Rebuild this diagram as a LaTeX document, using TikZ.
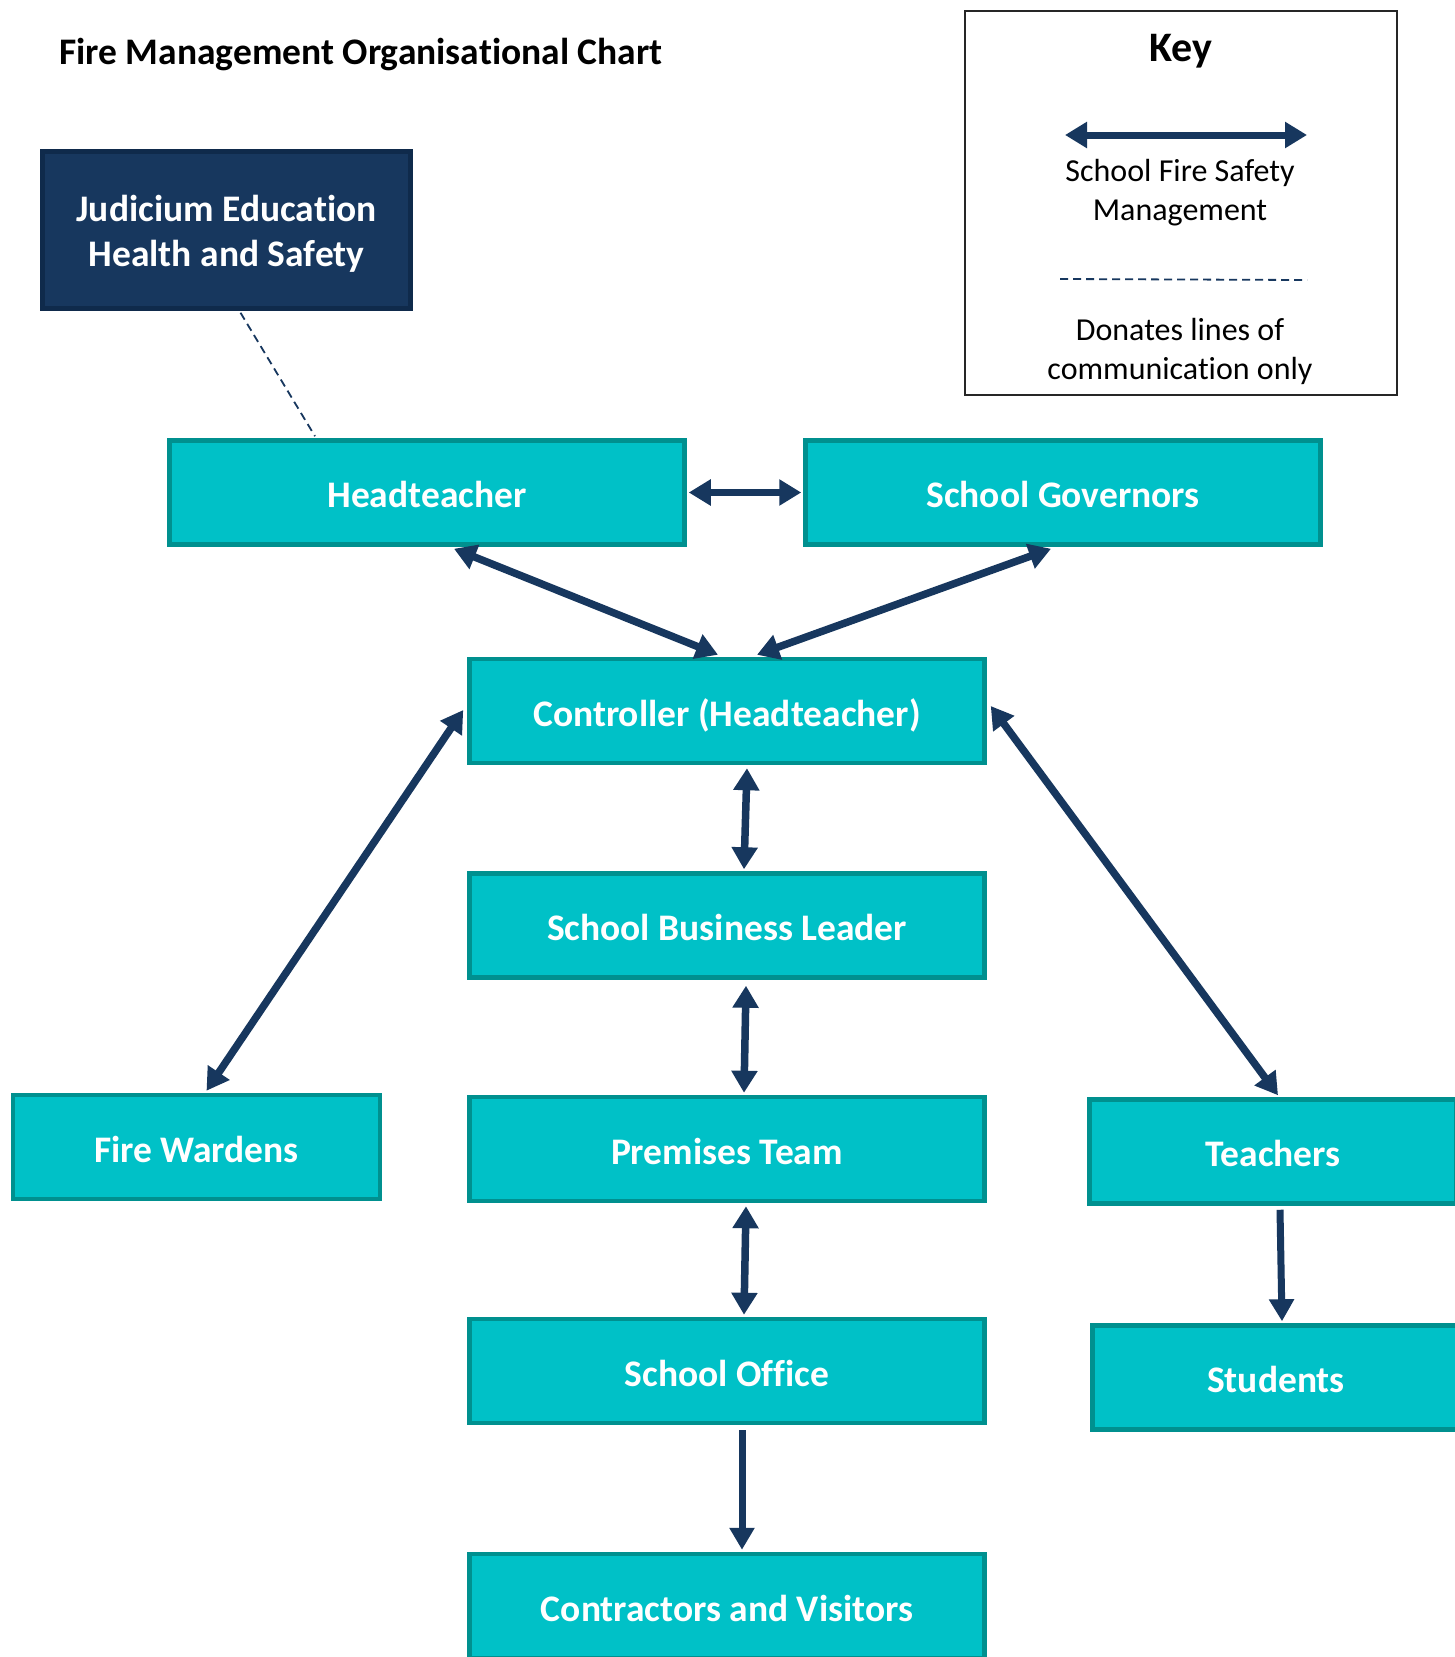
\documentclass[tikz,border=0pt]{standalone}
\usepackage{fontspec}
\setmainfont{Carlito}[Ligatures=NoCommon]
\usetikzlibrary{arrows.meta,calc}
\definecolor{tealfill}{HTML}{00C1C7}
\definecolor{tealedge}{HTML}{00908F}
\definecolor{navy}{HTML}{17375E}
\definecolor{navyedge}{HTML}{0F2A4B}
\newcommand{\lowerby}[1]{\raisebox{-3.5pt}[\height][\depth]{#1}}
\begin{document}
\begin{tikzpicture}[x=1pt,y=-1pt,
  box/.style={draw=tealedge, fill=tealfill, line width=4.5pt, text=white,
    font=\bfseries\fontsize{37.5}{45}\selectfont, inner sep=0pt, align=center},
  oneline/.style={execute at begin node={\rule[-8pt]{0pt}{46pt}}},
  wide/.style={minimum width=515pt, minimum height=104pt, oneline},
  narrow/.style={minimum width=367pt, minimum height=104pt, oneline},
  link/.style={draw=navy, line width=7.5pt,
    {Triangle[length=22pt,width=25pt]}-{Triangle[length=22pt,width=25pt]}},
  oneway/.style={draw=navy, line width=7pt, -{Triangle[length=22pt,width=24pt]}},
  comm/.style={draw=navy, line width=1.8pt, dash pattern=on 8pt off 5pt},
  keytext/.style={align=center, font=\fontsize{32}{39}\selectfont, inner sep=0pt}]
\useasboundingbox (0,0) rectangle (1455,1657);
\fill[white] (0,0) rectangle (1455,1657);

% title
\node[anchor=west, inner sep=0pt, font=\bfseries\fontsize{37.5}{45}\selectfont] (title) at (59,55) {Fire Management Organisational Chart};

% key
\node[draw=black!85, line width=2pt, minimum width=432pt, minimum height=384pt] (key) at (1181,203) {};
\node[inner sep=0pt, font=\bfseries\fontsize{42}{50}\selectfont] (keyt) at (1181,51) {Key};
\coordinate (ka1) at (1065,135);
\coordinate (ka2) at (1307,135);
\draw[link, line width=7pt] (ka1) -- (ka2);
\node[keytext] (kt1) at (1180,193) {School Fire Safety\\Management};
\coordinate (kd1) at (1060,279);
\coordinate (kd2) at (1307,280);
\draw[comm] (kd1) -- (kd2);
\node[keytext] (kt2) at (1180,351) {Donates lines of\\communication only};

% boxes
\node[box, fill=navy, draw=navyedge, minimum width=368pt, minimum height=157pt] (jud) at (226.5,230) {\lowerby{Judicium Education}\\\lowerby{Health and Safety}};
\node[box, wide] (head) at (427,492.5) {Headteacher};
\node[box, wide] (gov) at (1063,492.5) {School Governors};
\node[box, wide] (ctrl) at (727,711) {Controller (Headteacher)};
\node[box, wide] (sbl) at (727,925.5) {School Business Leader};
\node[box, narrow] (fw) at (196.5,1147) {Fire Wardens};
\node[box, wide] (prem) at (727,1149) {Premises Team};
\node[box, narrow] (teach) at (1273,1151.5) {Teachers};
\node[box, wide] (office) at (727,1371) {School Office};
\node[box, narrow] (stud) at (1276,1377.5) {Students};
\node[box, wide] (cont) at (727,1606) {Contractors and Visitors};

% connectors
\draw[comm] ($(jud.south)+(14,2)$) -- ($(head.north)+(-112,-2)$);
\draw[link] ($(head.east)+(2,0)$) -- ($(gov.west)+(-2,0)$);
\draw[link] ($(head.south)+(27,2)$) -- ($(ctrl.north)+(-9,-2)$);
\draw[link] ($(gov.south)+(-12,2)$) -- ($(ctrl.north)+(30,-2)$);
\draw[link] ($(ctrl.west)+(-4,-1)$) -- ($(fw.north)+(10,-2)$);
\draw[link] ($(ctrl.east)+(4,-5)$) -- ($(teach.north)+(5,-2)$);
\draw[link] ($(ctrl.south)+(20,3)$) -- ($(sbl.north)+(17,-2)$);
\draw[link] ($(sbl.south)+(19,6)$) -- ($(prem.north)+(17,-2)$);
\draw[link] ($(prem.south)+(19,3)$) -- ($(office.north)+(17,-2)$);
\draw[oneway] ($(office.south)+(15,5)$) -- ($(cont.north)+(15,-2)$);
\draw[oneway] ($(teach.south)+(7,4)$) -- ($(stud.north)+(6,-2)$);
\end{tikzpicture}
\end{document}
